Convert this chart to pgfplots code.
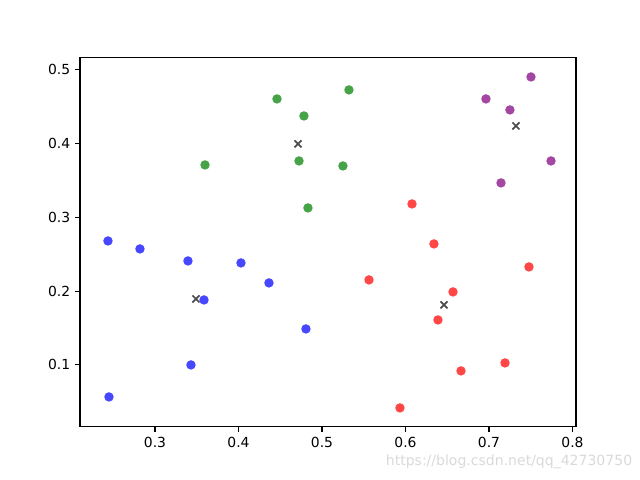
\documentclass[border=0pt]{standalone}
\usepackage{pgfplots}
\pgfplotsset{compat=1.18}
\usepackage{fontspec}
\setmainfont{DejaVu Sans}
\definecolor{mplgreen}{HTML}{008000}
\definecolor{mplpurple}{HTML}{800080}
\begin{document}
\begin{tikzpicture}
\path[use as bounding box] (0,0) rectangle (460.8pt,345.6pt);
\begin{axis}[
    at={(57.6pt,38.2pt)}, anchor=south west,
    scale only axis, width=357.1pt, height=265.7pt,
    xmin=0.2102, xmax=0.8042, ymin=0.0159, ymax=0.5163,
    xtick={0.3,0.4,0.5,0.6,0.7,0.8},
    ytick={0.1,0.2,0.3,0.4,0.5},
    xtick pos=bottom, ytick pos=left,
    tick align=outside, major tick length=3.5pt,
    tick style={black, line width=0.8pt},
    axis line style={line width=0.8pt},
    ticklabel style={font=\fontsize{10}{12}\selectfont},
    /pgf/number format/assume math mode=true,
    /pgf/number format/fixed, /pgf/number format/precision=1,
    /pgf/number format/fixed zerofill,
    only marks,
    dot/.style={color=#1, mark=*, mark size=3.4pt, mark options={draw opacity=0, fill=#1, fill opacity=0.72}},
]
\addplot[dot=blue] coordinates {
(0.2437,0.2681) (0.2820,0.2573) (0.3395,0.2410) (0.4030,0.2383) (0.4365,0.2112)
(0.3587,0.1881) (0.4808,0.1488) (0.3431,0.1000) (0.2449,0.0566)};
\addplot[dot=mplgreen] coordinates {
(0.4461,0.4607) (0.5323,0.4729) (0.4784,0.4376) (0.3599,0.3712) (0.4725,0.3766)
(0.5251,0.3698) (0.4832,0.3129)};
\addplot[dot=red] coordinates {
(0.6078,0.3183) (0.6341,0.2641) (0.5563,0.2153) (0.7479,0.2329) (0.6569,0.1990)
(0.6389,0.1610) (0.7192,0.1027) (0.6665,0.0919) (0.5934,0.0417)};
\addplot[dot=mplpurple] coordinates {
(0.7503,0.4905) (0.6964,0.4607) (0.7251,0.4458) (0.7144,0.3468) (0.7743,0.3766)};
\addplot[mark=x, mark size=3.6pt, draw=black, line width=1.2pt, opacity=0.7] coordinates {
(0.4713,0.3997) (0.3491,0.1895) (0.6461,0.1814) (0.7323,0.4241)};
\end{axis}
\node[text=black!15, font=\fontsize{10.1}{12}\selectfont, anchor=center] at (366.5pt,13pt) {https://blog.csdn.net/qq\_42730750};
\end{tikzpicture}
\end{document}
